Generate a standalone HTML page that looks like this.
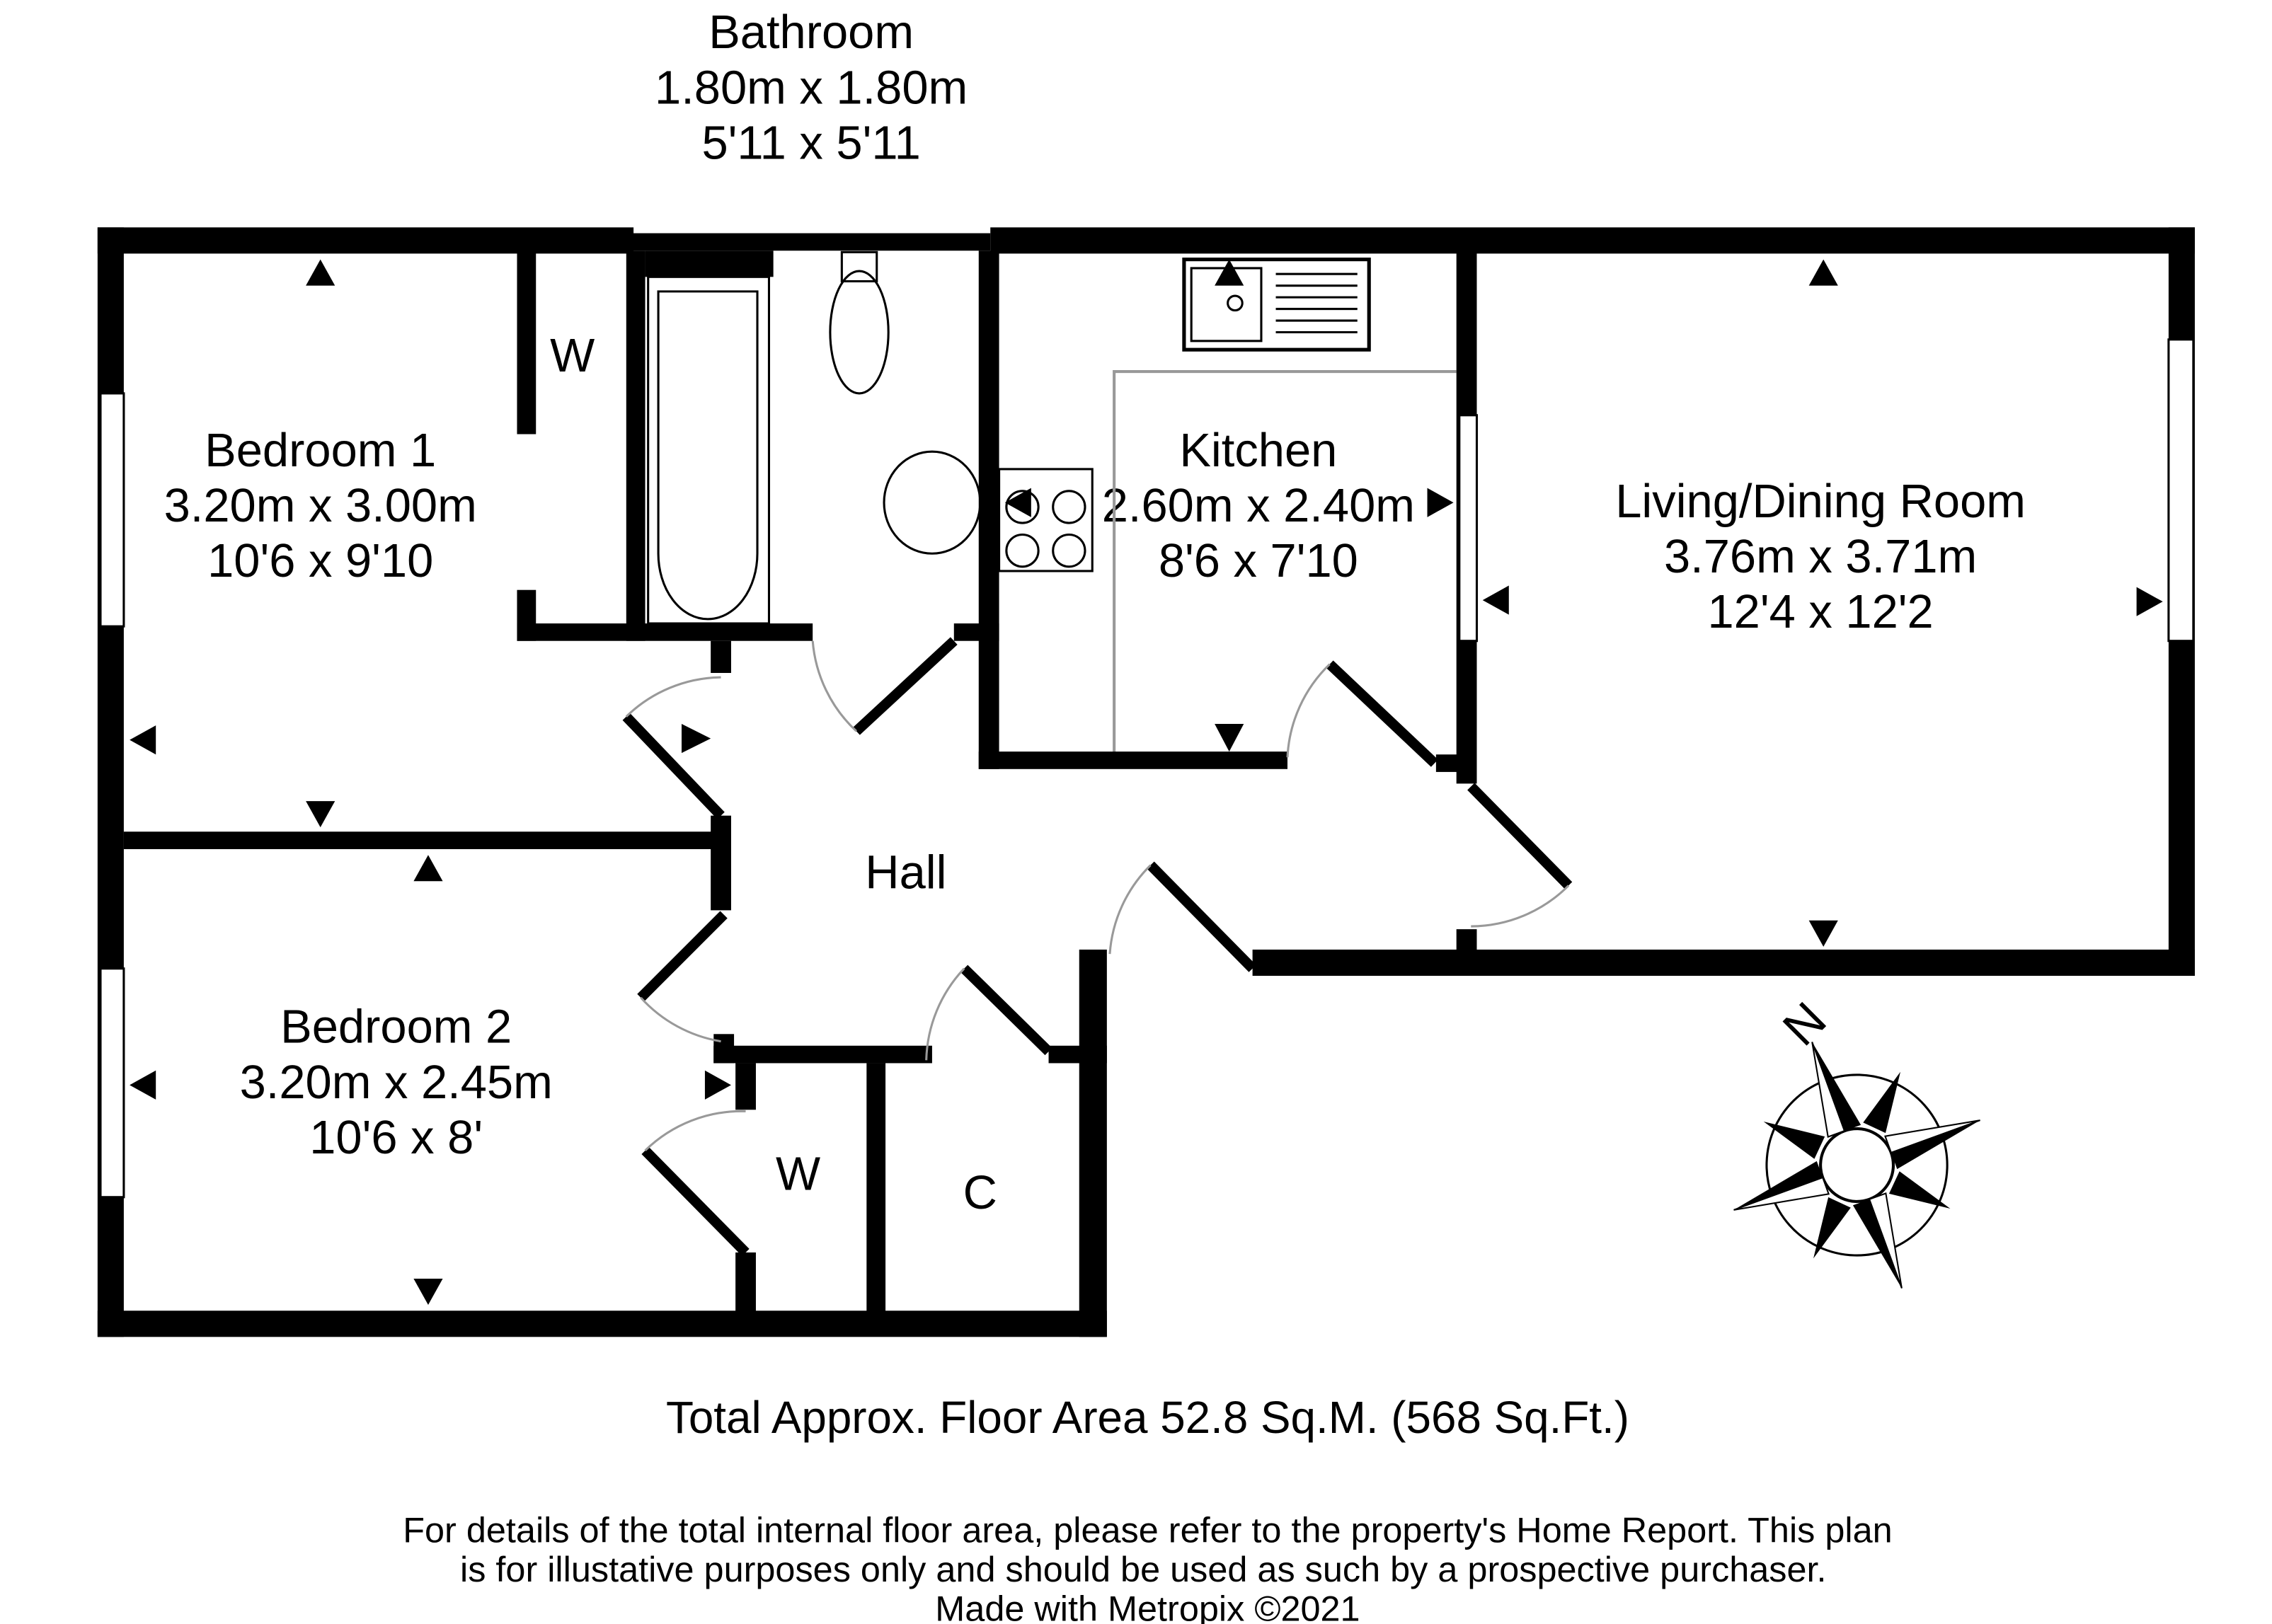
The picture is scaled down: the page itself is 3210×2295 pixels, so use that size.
<!DOCTYPE html>
<html><head><meta charset="utf-8"><style>
html,body{margin:0;padding:0;background:#fff;}
svg{display:block;}
text{font-family:"Liberation Sans",Arial,sans-serif;fill:#000;}
</style></head><body>
<svg width="3210" height="2295" viewBox="0 0 1560 1115" xmlns="http://www.w3.org/2000/svg">
<rect width="1560" height="1115" fill="#fff"/>
<g font-size="32.5" text-anchor="middle">
<text x="557" y="33">Bathroom</text>
<text x="557" y="71">1.80m x 1.80m</text>
<text x="557" y="109">5'11 x 5'11</text>
<text x="220" y="320">Bedroom 1</text>
<text x="220" y="358">3.20m x 3.00m</text>
<text x="220" y="396">10'6 x 9'10</text>
<text x="864" y="320">Kitchen</text>
<text x="864" y="358">2.60m x 2.40m</text>
<text x="864" y="396">8'6 x 7'10</text>
<text x="1250" y="355">Living/Dining Room</text>
<text x="1250" y="393">3.76m x 3.71m</text>
<text x="1250" y="431">12'4 x 12'2</text>
<text x="622" y="610">Hall</text>
<text x="272" y="716">Bedroom 2</text>
<text x="272" y="754">3.20m x 2.45m</text>
<text x="272" y="792">10'6 x 8'</text>
<text x="393" y="255">W</text>
<text x="548" y="817">W</text>
<text x="673" y="830">C</text>
<text x="788" y="984" font-size="31">Total Approx. Floor Area 52.8 Sq.M. (568 Sq.Ft.)</text>
<text x="788" y="1059" font-size="24.5">For details of the total internal floor area, please refer to the property's Home Report. This plan</text>
<text x="785" y="1086" font-size="24.5">is for illustative purposes only and should be used as such by a prospective purchaser.</text>
<text x="788" y="1113" font-size="24.5">Made with Metropix ©2021</text>
</g>
<path d="M765 518 V255 H1000" fill="none" stroke="#999" stroke-width="2"/>
<g fill="#000">
<rect x="67" y="156" width="368" height="18"/>
<rect x="430" y="160" width="250" height="12"/>
<rect x="443" y="172" width="88" height="18"/>
<rect x="680" y="156" width="827" height="18"/>
<rect x="67" y="156" width="18" height="762"/>
<rect x="67" y="900" width="693" height="18"/>
<rect x="741" y="652" width="19" height="266"/>
<rect x="860" y="652" width="647" height="18"/>
<rect x="1489" y="156" width="18" height="514"/>
<rect x="85" y="571" width="415" height="12"/>
<rect x="488" y="560" width="14" height="65"/>
<rect x="488" y="440" width="14" height="22"/>
<rect x="490" y="710" width="14" height="20"/>
<rect x="355" y="172" width="13" height="126"/>
<rect x="355" y="405" width="13" height="35"/>
<rect x="355" y="428" width="203" height="12"/>
<rect x="430" y="172" width="13" height="268"/>
<rect x="655" y="428" width="31" height="12"/>
<rect x="672" y="172" width="14" height="356"/>
<rect x="672" y="516" width="212" height="12"/>
<rect x="986" y="518" width="28" height="12"/>
<rect x="1000" y="172" width="14" height="366"/>
<rect x="1000" y="638" width="14" height="16"/>
<rect x="490" y="718" width="150" height="12"/>
<rect x="720" y="718" width="40" height="12"/>
<rect x="505" y="730" width="14" height="32"/>
<rect x="505" y="860" width="14" height="45"/>
<rect x="595" y="730" width="13" height="175"/>
</g>
<g fill="#fff" stroke="#000" stroke-width="1.5">
<rect x="69" y="270" width="16" height="160"/>
<rect x="69" y="665" width="16" height="157"/>
<rect x="1489" y="233" width="17" height="207"/>
<rect x="1002" y="285" width="12" height="155"/>
</g>
<g stroke="#000" stroke-width="7" stroke-linecap="butt">
<line x1="430" y1="492" x2="495" y2="560"/>
<line x1="588" y1="502" x2="655" y2="440"/>
<line x1="913" y1="456" x2="985" y2="524"/>
<line x1="1010" y1="540" x2="1077" y2="608"/>
<line x1="790" y1="594" x2="860" y2="665"/>
<line x1="440" y1="685" x2="497" y2="628"/>
<line x1="662" y1="665" x2="720" y2="722"/>
<line x1="443" y1="790" x2="512" y2="860"/>
</g>
<g stroke="#999" stroke-width="1.5" fill="none">
<path d="M430 492 A95 95 0 0 1 495 465"/>
<path d="M588 502 A95 95 0 0 1 558 440"/>
<path d="M913 456 A95 95 0 0 0 884 520"/>
<path d="M1077 608 A95 95 0 0 1 1010 636"/>
<path d="M790 594 A95 95 0 0 0 762 655"/>
<path d="M440 685 A95 95 0 0 0 495 715"/>
<path d="M662 665 A95 95 0 0 0 636 728"/>
<path d="M443 790 A95 95 0 0 1 512 763"/>
</g>
<g fill="none" stroke="#000" stroke-width="1.5">
<rect x="445" y="190" width="83" height="238"/>
<path d="M452 200 H520 V380 A34 45 0 0 1 452 380 Z"/>
<ellipse cx="590" cy="228" rx="20" ry="42"/>
<rect x="578" y="173" width="24" height="20"/>
<ellipse cx="640" cy="345" rx="33" ry="35"/>
<rect x="686" y="322" width="64" height="70"/>
<circle cx="702" cy="348" r="11"/><circle cx="734" cy="348" r="11"/>
<circle cx="702" cy="378" r="11"/><circle cx="734" cy="378" r="11"/>
<rect x="813" y="178" width="127" height="62" stroke-width="2.5"/>
<rect x="818" y="184" width="48" height="50"/>
<circle cx="848" cy="208" r="5"/>
<path d="M876 188h56M876 196h56M876 204h56M876 212h56M876 220h56M876 228h56"/>
</g>
<g fill="#000">
<path d="M210 196 L230 196 L220 178 Z"/>
<path d="M210 550 L230 550 L220 568 Z"/>
<path d="M107 498 L107 518 L89 508 Z"/>
<path d="M284 605 L304 605 L294 587 Z"/>
<path d="M284 878 L304 878 L294 896 Z"/>
<path d="M107 735 L107 755 L89 745 Z"/>
<path d="M484 735 L484 755 L502 745 Z"/>
<path d="M468 497 L468 517 L488 507 Z"/>
<path d="M834 196 L854 196 L844 178 Z"/>
<path d="M834 497 L854 497 L844 516 Z"/>
<path d="M708 335 L708 355 L690 345 Z"/>
<path d="M980 335 L980 355 L998 345 Z"/>
<path d="M1036 402 L1036 422 L1018 412 Z"/>
<path d="M1242 196 L1262 196 L1252 178 Z"/>
<path d="M1242 632 L1262 632 L1252 650 Z"/>
<path d="M1467 403 L1467 423 L1485 413 Z"/>
</g>
<g transform="translate(1275,800) rotate(-20)">
<circle r="62" fill="none" stroke="#000" stroke-width="1.5"/>
<circle r="25" fill="#fff" stroke="#000" stroke-width="2"/>
<path d="M0 -90 L12 -25 L0 -25 Z M0 90 L-12 25 L0 25 Z M-90 0 L-25 -12 L-25 0 Z M90 0 L25 12 L25 0 Z" fill="#000"/>
<path d="M0 -90 L-12 -25 L0 -25 Z M0 90 L12 25 L0 25 Z M-90 0 L-25 12 L-25 0 Z M90 0 L25 -12 L25 0 Z" fill="#fff" stroke="#000"/>
<path d="M50 -50 L14 -26 L26 -14 Z M-50 50 L-14 26 L-26 14 Z M-50 -50 L-26 -14 L-14 -26 Z M50 50 L26 14 L14 26 Z" fill="#000"/>
<text x="0" y="-92" font-size="34" font-family="Liberation Serif" text-anchor="middle" transform="rotate(-25 0 -102)">N</text>
</g>
</svg>
</body></html>
